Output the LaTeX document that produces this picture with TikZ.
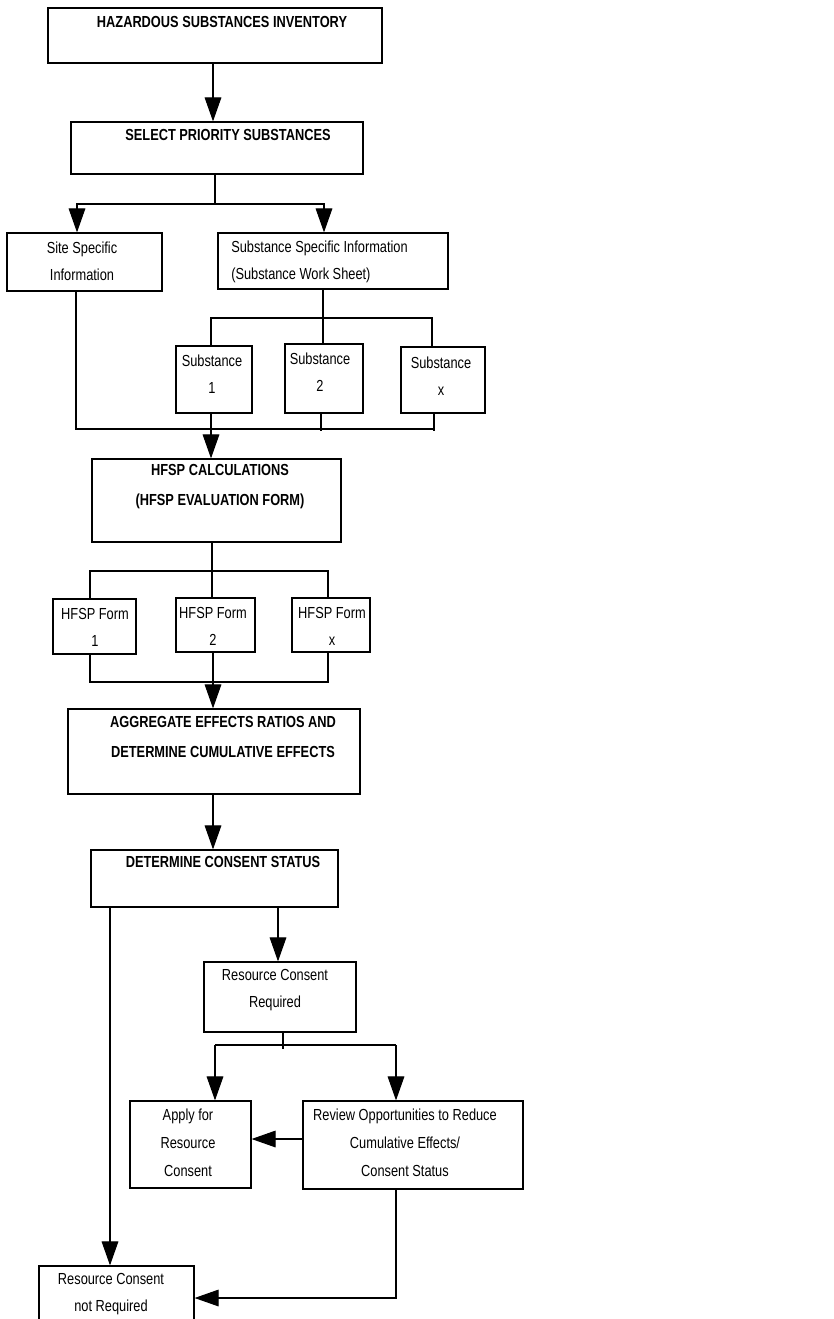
\documentclass[tikz,border=0pt]{standalone}
\usepackage{fontspec}
\newfontfamily\chartfont[FakeStretch=0.8]{Liberation Sans}
\usetikzlibrary{arrows.meta, fit}

\begin{document}
\begin{tikzpicture}[
  x=0.75pt, y=-0.75pt,
  >={Triangle[length=18pt, width=12.5pt]},
  box/.style={draw, line width=0.9pt, inner sep=0pt, fit={#1}},
  txt/.style={font=\chartfont\fontsize{12}{20.25}\selectfont, align=center, inner sep=0pt},
  ttl/.style={font=\chartfont\bfseries\fontsize{12}{22.5}\selectfont, align=center, inner sep=0pt},
  ln/.style={line width=0.8pt},
  arr/.style={->, line width=0.8pt},
  tick/.style={line width=1.8pt},
]
  \useasboundingbox[fill=white] (0,0) rectangle (834,1319);

  % boxes
  \node[box={(48,8) (382,63)}]       (hsi)   {};
  \node[box={(71,122) (363,174)}]    (sps)   {};
  \node[box={(7,233) (162,291)}]     (site)  {};
  \node[box={(218,233) (448,289)}]   (ssi)   {};
  \node[box={(176,346) (252,413)}]   (sub1)  {};
  \node[box={(285,344) (363,413)}]   (sub2)  {};
  \node[box={(401,347) (485,413)}]   (subx)  {};
  \node[box={(92,459) (341,542)}]    (calc)  {};
  \node[box={(53,599) (136,654)}]    (form1) {};
  \node[box={(176,598) (255,652)}]   (form2) {};
  \node[box={(292,598) (370,652)}]   (formx) {};
  \node[box={(68,709) (360,794)}]    (agg)   {};
  \node[box={(91,850) (338,907)}]    (dcs)   {};
  \node[box={(204,962) (356,1032)}]  (rcr)   {};
  \node[box={(130,1101) (251,1188)}] (apply) {};
  \node[box={(303,1101) (523,1189)}] (review){};
  \node[box={(39,1266) (194,1345)}]  (rcnr)  {};

  % texts
  \node[ttl] (hsi-t)   at (222,22)    {HAZARDOUS SUBSTANCES INVENTORY};
  \node[ttl] (sps-t)   at (228,135)   {SELECT PRIORITY SUBSTANCES};
  \node[txt] (site-t)  at (82,261.5)  {Site Specific\\Information};
  \node[txt, align=left, anchor=west] (ssi-t) at (231,261.5) {Substance Specific Information\\(Substance Work Sheet)};
  \node[txt] (sub1-t)  at (212,374.5) {Substance\\1};
  \node[txt] (sub2-t)  at (320,372.5) {Substance\\2};
  \node[txt] (subx-t)  at (441,376.5) {Substance\\x};
  \node[ttl] (calc-t)  at (220,487)   {HFSP CALCULATIONS\\(HFSP EVALUATION FORM)};
  \node[txt] (form1-t) at (95,627.5)  {HFSP Form\\1};
  \node[txt] (form2-t) at (213,626.5) {HFSP Form\\2};
  \node[txt] (formx-t) at (332,626.5) {HFSP Form\\x};
  \node[ttl] (agg-t)   at (223,737)   {AGGREGATE EFFECTS RATIOS AND\\DETERMINE CUMULATIVE EFFECTS};
  \node[ttl] (dcs-t)   at (223,862)   {DETERMINE CONSENT STATUS};
  \node[txt] (rcr-t)   at (275,990.5) {Resource Consent\\Required};
  \node[txt, font=\chartfont\fontsize{12}{21}\selectfont] (apply-t) at (188,1143) {Apply for\\Resource\\Consent};
  \node[txt, font=\chartfont\fontsize{12}{21}\selectfont] (review-t) at (405,1143) {Review Opportunities to Reduce\\Cumulative Effects/\\Consent Status};
  \node[txt] (rcnr-t)  at (111,1294.5) {Resource Consent\\not Required};

  % junctions
  \coordinate (s1) at (215,204);  \coordinate (sL) at (77,204);  \coordinate (sR) at (324,204);
  \coordinate (wL) at (211,318);  \coordinate (wM) at (323,318); \coordinate (wR) at (432,318);
  \coordinate (cL) at (76,429);   \coordinate (c1) at (211,429); \coordinate (c2) at (321,431);
  \coordinate (cR) at (434,429);  \coordinate (cT) at (434,431);
  \coordinate (k)  at (212,571);  \coordinate (kL) at (90,571);  \coordinate (kR) at (328,571);
  \coordinate (mL) at (90,682);   \coordinate (mM) at (213,682); \coordinate (mR) at (328,682);
  \coordinate (dA) at (110,907);  \coordinate (dB) at (278,907);
  \coordinate (r)  at (283,1049); \coordinate (rL) at (215,1045); \coordinate (rR) at (396,1045);
  \coordinate (h)  at (277,1139); \coordinate (b)  at (396,1298);

  % connectors
  \draw[arr] (hsi.south -| 213,0) -- (sps.north -| 213,0);
  \draw[ln]  (sps.south -| s1) -- (s1);
  \draw[arr] (s1) -- (sL) -- (sL |- site.north);
  \draw[arr] (s1) -- (sR) -- (sR |- ssi.north);
  \draw[ln]  (ssi.south -| wM) -- (sub2.north -| wM);
  \draw[ln]  (sub1.north -| wL) -- (wL) -- (wR) -- (subx.north -| wR);
  \draw[ln]  (site.south -| cL) -- (cL) -- (cR);
  \draw[tick] (sub2.south -| c2) -- (c2);
  \draw[tick] (subx.south -| cT) -- (cT);
  \draw[arr] (sub1.south -| c1) -- (calc.north -| c1);
  \draw[ln]  (calc.south -| k) -- (form2.north -| k);
  \draw[ln]  (form1.north -| kL) -- (kL) -- (kR) -- (formx.north -| kR);
  \draw[ln]  (form1.south -| mL) -- (mL) -- (mR) -- (formx.south -| mR);
  \draw[ln]  (form2.south -| mM) -- (mM);
  \draw[arr] (mM) -- (agg.north -| mM);
  \draw[arr] (agg.south -| mM) -- (dcs.north -| mM);
  \draw[arr] (dA) -- (rcnr.north -| dA);
  \draw[arr] (dB) -- (rcr.north -| dB);
  \draw[tick] (rcr.south -| r) -- (r);
  \draw[ln]  (rL) -- (rR);
  \draw[arr] (rL) -- (apply.north -| rL);
  \draw[arr] (rR) -- (review.north -| rR);
  \draw[arr] (review.west |- h) -- (apply.east |- h);
  \draw[arr] (review.south -| b) -- (b) -- (rcnr.east |- b);
\end{tikzpicture}
\end{document}
